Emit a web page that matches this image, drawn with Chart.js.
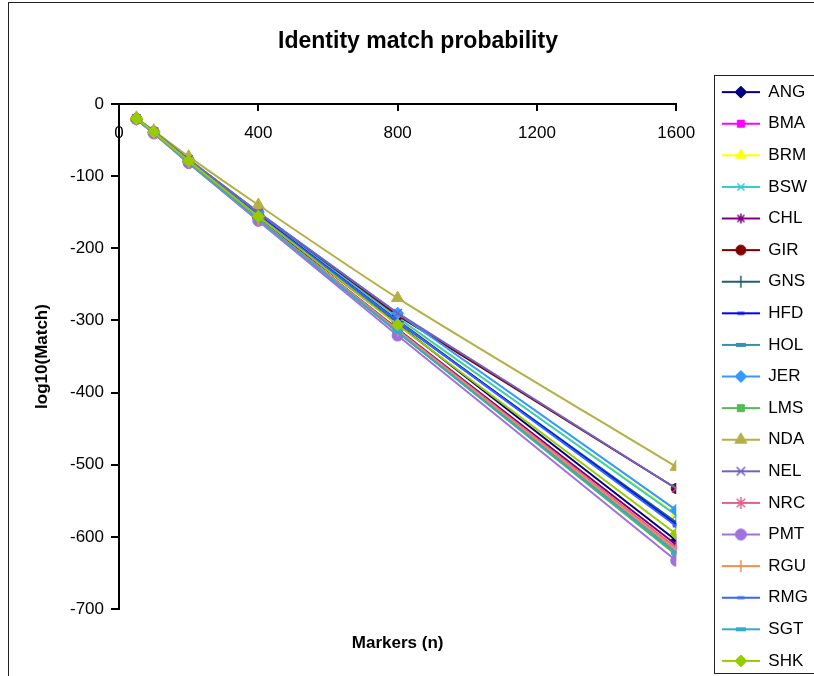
<!DOCTYPE html>
<html>
<head>
<meta charset="utf-8">
<title>Identity match probability</title>
<script src="https://cdn.jsdelivr.net/npm/chart.js@4.4.1/dist/chart.umd.min.js"></script>
<style>
html, body { margin: 0; padding: 0; background: #fff; overflow: hidden; }
canvas { display: block; }
</style>
</head>
<body>
<canvas id="canvas_grafica" width="818" height="700"></canvas>
<script>
// number of markers and log10 match probability per breed
const markers = [50, 100, 200, 400, 800, 1600];
const breeds = ['ANG', 'BMA', 'BRM', 'BSW', 'CHL', 'GIR', 'GNS', 'HFD', 'HOL', 'JER',
                'LMS', 'NDA', 'NEL', 'NRC', 'PMT', 'RGU', 'RMG', 'SGT', 'SHK'];

const ANG = [-21, -40, -80, -158, -305, -605];
const BMA = [-21, -40, -81, -160, -315, -618];
const BRM = [-20, -39, -78, -152, -298, -568];
const BSW = [-20, -39, -78, -152, -296, -570];
const CHL = [-21, -40, -81, -160, -312, -611];
const GIR = [-20, -38, -77, -150, -293, -533];
const GNS = [-20, -39, -79, -154, -302, -580];
const HFD = [-20, -39, -79, -154, -300, -583];
const HOL = [-21, -40, -81, -161, -316, -622];
const JER = [-20, -38, -77, -150, -290, -563];
const LMS = [-21, -41, -82, -161, -316, -625];
const NDA = [-19, -37, -73, -140, -269, -503];
const NEL = [-20, -38, -77, -151, -290, -533];
const NRC = [-21, -40, -81, -159, -313, -615];
const PMT = [-21, -41, -82, -162, -321, -633];
const RGU = [-21, -40, -81, -160, -314, -618];
const RMG = [-20, -39, -79, -155, -301, -585];
const SGT = [-21, -40, -81, -160, -316, -622];
const SHK = [-20, -39, -79, -156, -306, -596];

const valores = [ANG, BMA, BRM, BSW, CHL, GIR, GNS, HFD, HOL, JER,
                 LMS, NDA, NEL, NRC, PMT, RGU, RMG, SGT, SHK];

const xTicks = [0, 400, 800, 1200, 1600];
const yTicks = [0, -100, -200, -300, -400, -500, -600, -700];

// line colour and marker for each breed
const colores = ['#000080', '#FF00FF', '#FFFF00', '#33CCCC', '#800080', '#800000', '#1F6070', '#0000FF', '#3A8FB0', '#3399FF',
                 '#55BB55', '#B5B045', '#6F62C0', '#DD6688', '#A070E0', '#F08F50', '#3366FF', '#33AACC', '#99CC00'];
const marcas = [
  {shape: 'rectRot', r: 6, bw: 1},   {shape: 'rect', r: 5, bw: 1},     {shape: 'triangle', r: 6, bw: 1},
  {shape: 'crossRot', r: 5, bw: 1.5}, {shape: 'star', r: 5, bw: 1.5},  {shape: 'circle', r: 5, bw: 1},
  {shape: 'cross', r: 6, bw: 1.5},   {shape: 'line', r: 3.5, bw: 3},   {shape: 'line', r: 5, bw: 4},
  {shape: 'rectRot', r: 6, bw: 1},   {shape: 'rect', r: 5, bw: 1},     {shape: 'triangle', r: 7, bw: 1},
  {shape: 'crossRot', r: 6, bw: 1.5}, {shape: 'star', r: 6, bw: 1.5},  {shape: 'circle', r: 5.5, bw: 1},
  {shape: 'cross', r: 6, bw: 1.5},   {shape: 'line', r: 3.5, bw: 3},   {shape: 'line', r: 5, bw: 4},
  {shape: 'rectRot', r: 6, bw: 1}
];

// little line + marker picture for the legend
function muestraLeyenda(color, marca) {
  let c = document.createElement('canvas');
  c.width = 69;
  c.height = 18;
  let ctx = c.getContext('2d');
  ctx.strokeStyle = color;
  ctx.fillStyle = color;
  ctx.lineWidth = 2;
  ctx.beginPath();
  ctx.moveTo(31, 9);
  ctx.lineTo(69, 9);
  ctx.stroke();
  ctx.lineWidth = marca.bw;
  Chart.helpers.drawPoint(ctx, {pointStyle: marca.shape, radius: marca.r, rotation: 0, borderWidth: marca.bw}, 50, 9);
  return c;
}

// outer frame and legend frame
const marcos = {
  id: 'marcos',
  afterDraw(chart) {
    let ctx = chart.ctx;
    ctx.save();
    ctx.strokeStyle = '#222';
    ctx.lineWidth = 1;
    ctx.strokeRect(8.5, 2.5, 900, 900);
    ctx.strokeRect(714.5, 75.5, 200, 598);
    ctx.restore();
  }
};

Chart.defaults.font.family = "'Liberation Sans', Arial, sans-serif";
Chart.defaults.color = '#000';

const datasets = breeds.map((nombre, i) => ({
  label: nombre,
  data: markers.map((m, j) => ({x: m, y: valores[i][j]})),
  borderColor: colores[i],
  backgroundColor: colores[i],
  borderWidth: 2,
  pointStyle: marcas[i].shape,
  pointRadius: marcas[i].r,
  pointHoverRadius: marcas[i].r,
  pointBorderWidth: marcas[i].bw,
  pointBackgroundColor: colores[i],
  pointBorderColor: colores[i],
  tension: nombre === 'NDA' ? 0.25 : 0,
  order: breeds.length - i
}));

new Chart(document.getElementById('canvas_grafica'), {
  type: 'line',
  data: { datasets: datasets },
  plugins: [marcos],
  options: {
    responsive: false,
    animation: false,
    devicePixelRatio: 1,
    layout: { padding: { left: 18 } },
    scales: {
      x: {
        type: 'linear',
        position: { y: 0 },
        min: 0,
        max: 1600,
        afterBuildTicks: scale => { scale.ticks = xTicks.map(v => ({value: v})); },
        ticks: { font: { size: 17 }, padding: 13, maxRotation: 0, callback: v => String(v) },
        grid: { drawOnChartArea: false, tickLength: 6, color: '#000', lineWidth: 2 },
        border: { color: '#000', width: 2 }
      },
      xb: {
        type: 'linear',
        position: 'bottom',
        ticks: { display: false },
        grid: { display: false, drawTicks: false },
        border: { display: false },
        title: {
          display: true,
          text: 'Markers (n)',
          font: { size: 17, weight: 'bold' },
          padding: { top: 23.8, bottom: 46.8 }
        }
      },
      y: {
        type: 'linear',
        position: 'left',
        min: -700,
        max: 0,
        afterBuildTicks: scale => { scale.ticks = yTicks.map(v => ({value: v})); },
        ticks: { font: { size: 17 }, padding: 7, callback: v => String(v) },
        grid: { drawOnChartArea: false, tickLength: 8, color: '#000', lineWidth: 2 },
        border: { color: '#000', width: 2 },
        title: {
          display: true,
          text: 'log10(Match)',
          font: { size: 17, weight: 'bold' },
          padding: { top: 13.8, bottom: 10.8 }
        }
      }
    },
    plugins: {
      title: {
        display: true,
        text: 'Identity match probability',
        font: { size: 23, weight: 'bold' },
        padding: { top: 28.2, bottom: 13.2 }
      },
      subtitle: {
        display: true,
        text: ' ',
        fullSize: false,
        font: { size: 10, lineHeight: 1 },
        padding: { top: 0, bottom: 25 }
      },
      legend: {
        position: 'right',
        align: 'start',
        title: {
          display: true,
          text: ' ',
          font: { size: 10, lineHeight: 1 },
          padding: { top: 0, bottom: 59 }
        },
        labels: {
          usePointStyle: true,
          pointStyleWidth: 69,
          padding: 14.6,
          font: { size: 17 },
          sort: (a, b) => a.datasetIndex - b.datasetIndex,
          generateLabels: chart => {
            let items = Chart.defaults.plugins.legend.labels.generateLabels(chart);
            items.forEach(it => { it.pointStyle = muestraLeyenda(colores[it.datasetIndex], marcas[it.datasetIndex]); });
            return items;
          }
        }
      },
      tooltip: { enabled: false }
    }
  }
});
</script>
</body>
</html>
